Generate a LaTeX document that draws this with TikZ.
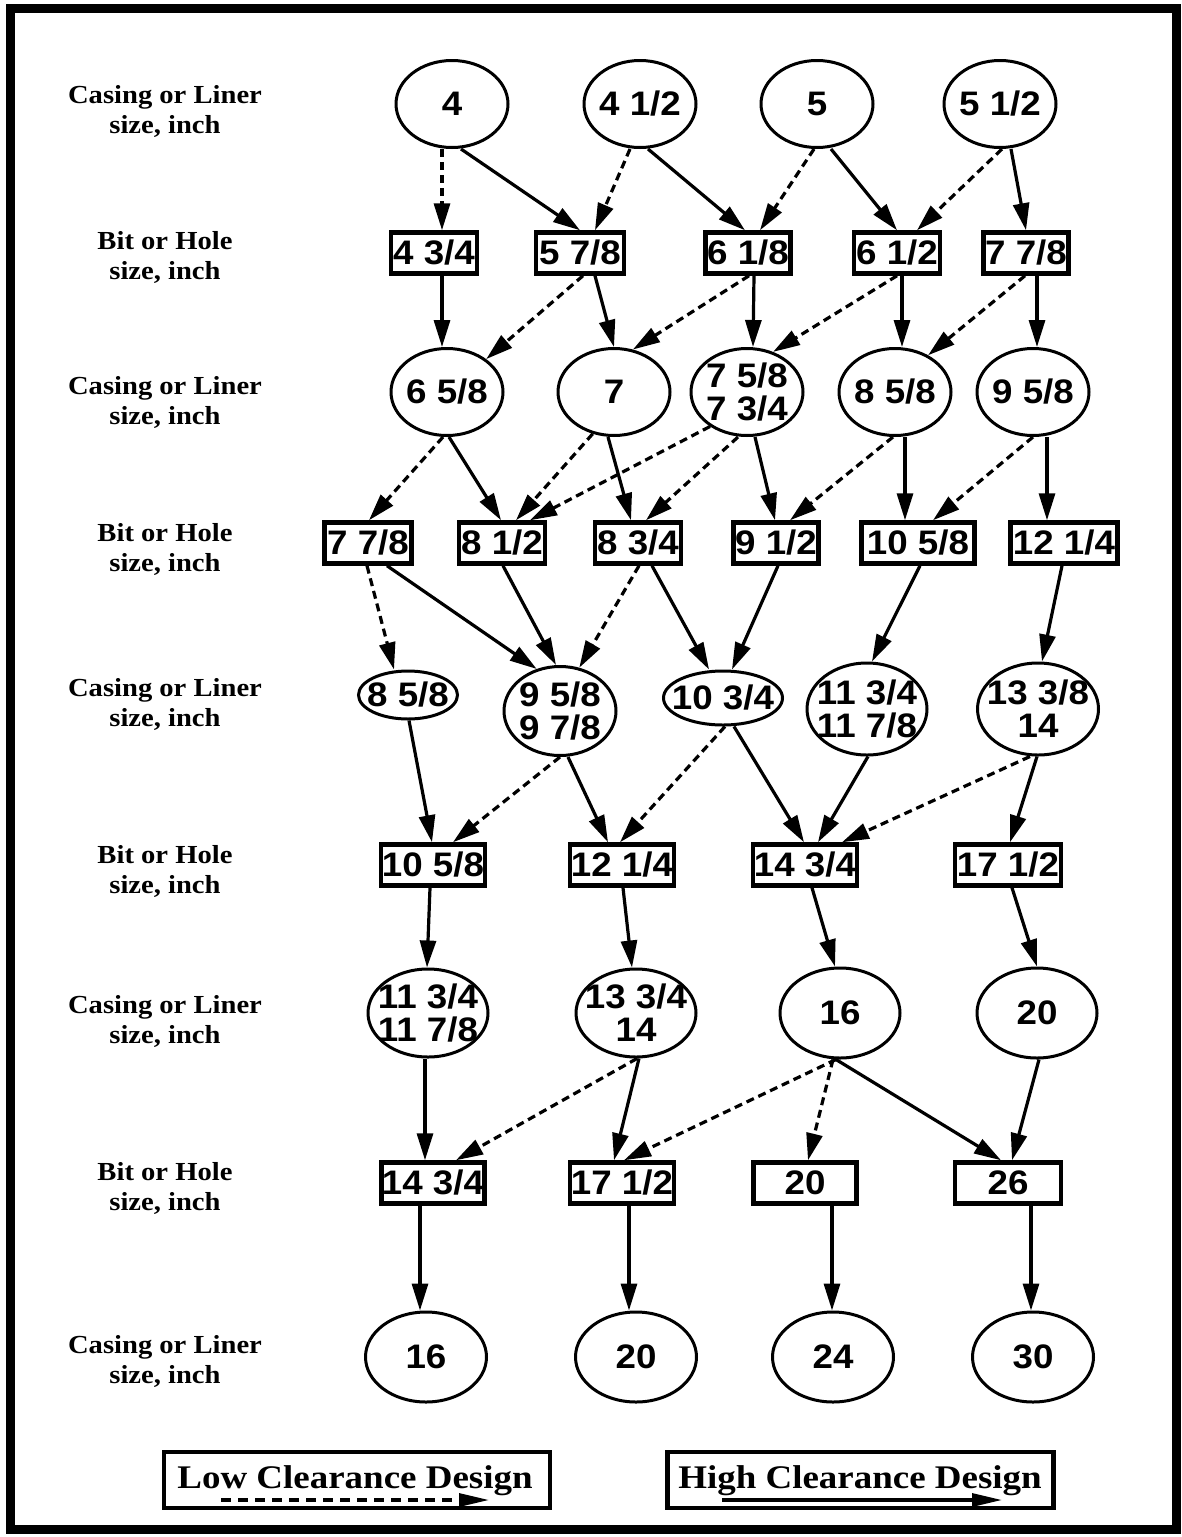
\documentclass[tikz,border=0pt]{standalone}
\usepackage{fontspec}
\usetikzlibrary{arrows.meta,shapes.geometric}
\newfontfamily\nodefont{Liberation Sans}[FakeStretch=1.08]
\newfontfamily\labfont{Liberation Serif}[FakeStretch=1.1]
\newfontfamily\legfont{Liberation Serif}[FakeStretch=1.12]
\begin{document}
\begin{tikzpicture}[x=1pt,y=-1pt,
  cas/.style={ellipse, draw, line width=3pt, inner xsep=-50pt, inner ysep=-45pt, align=center,
    font=\nodefont\fontsize{34pt}{33pt}\selectfont\bfseries},
  bit/.style={rectangle, draw, line width=4.5pt, inner xsep=-12pt, inner ysep=-8pt, minimum height=41pt,
    font=\nodefont\fontsize{34pt}{33pt}\selectfont\bfseries},
  lab/.style={align=center, font=\labfont\fontsize{26pt}{30pt}\selectfont\bfseries},
  legtext/.style={font=\legfont\fontsize{33pt}{33pt}\selectfont\bfseries, anchor=base},
  legbox/.style={rectangle, draw, line width=4.5pt, minimum width=386pt, minimum height=56pt, inner sep=0pt},
  hc/.style={line width=3.2pt, -{Triangle[length=27pt,width=16pt]}},
  lc/.style={hc, dash pattern=on 8pt off 5pt},
  leghc/.style={line width=3.2pt, -{Triangle[length=30pt,width=13pt]}},
  leglc/.style={leghc, dash pattern=on 10pt off 7pt}]
\useasboundingbox (0,0) rectangle (1182,1537);
\fill[white] (0,0) rectangle (1182,1537);
\draw[line width=9pt] (10.5,8.5) rectangle (1176.5,1529);

% row labels
\node[lab] (l1) at (165,111) {Casing or Liner\\size, inch};
\node[lab] (l2) at (165,257) {Bit or Hole\\size, inch};
\node[lab] (l3) at (165,402) {Casing or Liner\\size, inch};
\node[lab] (l4) at (165,549) {Bit or Hole\\size, inch};
\node[lab] (l5) at (165,704) {Casing or Liner\\size, inch};
\node[lab] (l6) at (165,871) {Bit or Hole\\size, inch};
\node[lab] (l7) at (165,1021) {Casing or Liner\\size, inch};
\node[lab] (l8) at (165,1188) {Bit or Hole\\size, inch};
\node[lab] (l9) at (165,1361) {Casing or Liner\\size, inch};

% row 1
\node[cas, minimum width=112pt, minimum height=87pt] (c4) at (452,104) {4};
\node[cas, minimum width=112pt, minimum height=87pt] (c412) at (640,104) {4 1/2};
\node[cas, minimum width=112pt, minimum height=87pt] (c5) at (817,104) {5};
\node[cas, minimum width=112pt, minimum height=87pt] (c512) at (1000,104) {5 1/2};
% row 2
\node[bit, minimum width=86pt] (b434) at (434,253) {4 3/4};
\node[bit, minimum width=88pt] (b578) at (580,253) {5 7/8};
\node[bit, minimum width=85pt] (b618) at (748,253) {6 1/8};
\node[bit, minimum width=86pt] (b612) at (897,253) {6 1/2};
\node[bit, minimum width=85pt] (b778a) at (1026,253) {7 7/8};
% row 3
\node[cas, minimum width=112pt, minimum height=87pt] (c658) at (447,392) {6 5/8};
\node[cas, minimum width=112pt, minimum height=87pt] (c7) at (614,392) {7};
\node[cas, minimum width=112pt, minimum height=87pt] (c758) at (747,392) {7 5/8\\7 3/4};
\node[cas, minimum width=112pt, minimum height=87pt] (c858a) at (895,392) {8 5/8};
\node[cas, minimum width=112pt, minimum height=87pt] (c958a) at (1033,392) {9 5/8};
% row 4
\node[bit, minimum width=87pt] (b778b) at (368,543) {7 7/8};
\node[bit, minimum width=86pt] (b812) at (502,543) {8 1/2};
\node[bit, minimum width=86pt] (b834) at (638,543) {8 3/4};
\node[bit, minimum width=85pt] (b912) at (776,543) {9 1/2};
\node[bit, minimum width=113pt] (b1058a) at (918,543) {10 5/8};
\node[bit, minimum width=107pt] (b1214a) at (1064,543) {12 1/4};
% row 5
\node[cas, minimum width=99pt, minimum height=48pt] (c858b) at (408,695) {8 5/8};
\node[cas, minimum width=112pt, minimum height=89pt] (c958b) at (560,711) {9 5/8\\9 7/8};
\node[cas, minimum width=119pt, minimum height=54pt] (c1034) at (723,698) {10 3/4};
\node[cas, minimum width=120pt, minimum height=92pt] (c1134a) at (867,709) {11 3/4\\11 7/8};
\node[cas, minimum width=121pt, minimum height=92pt] (c1338) at (1038,709) {13 3/8\\14};
% row 6
\node[bit, minimum width=104pt] (b1058b) at (433,865) {10 5/8};
\node[bit, minimum width=104pt] (b1214b) at (622,865) {12 1/4};
\node[bit, minimum width=104pt] (b1434a) at (805,865) {14 3/4};
\node[bit, minimum width=106pt] (b1712a) at (1008,865) {17 1/2};
% row 7
\node[cas, minimum width=120pt, minimum height=88pt] (c1134b) at (428,1013) {11 3/4\\11 7/8};
\node[cas, minimum width=120pt, minimum height=88pt] (c1334) at (636,1013) {13 3/4\\14};
\node[cas, minimum width=120pt, minimum height=90pt] (c16a) at (840,1013) {16};
\node[cas, minimum width=120pt, minimum height=90pt] (c20a) at (1037,1013) {20};
% row 8
\node[bit, minimum width=103pt] (b1434b) at (433,1183) {14 3/4};
\node[bit, minimum width=104pt] (b1712b) at (622,1183) {17 1/2};
\node[bit, minimum width=103pt] (b20) at (805,1183) {20};
\node[bit, minimum width=106pt] (b26) at (1008,1183) {26};
% row 9
\node[cas, minimum width=121pt, minimum height=90pt] (c16b) at (426,1357) {16};
\node[cas, minimum width=121pt, minimum height=90pt] (c20b) at (636,1357) {20};
\node[cas, minimum width=121pt, minimum height=90pt] (c24) at (833,1357) {24};
\node[cas, minimum width=121pt, minimum height=90pt] (c30) at (1033,1357) {30};

% row 1 -> row 2
\draw[lc] ([xshift=-10pt]c4.south) -- ([xshift=8pt]b434.north);
\draw[hc] ([xshift=9pt]c4.south) -- (b578.north);
\draw[lc] ([xshift=-10pt]c412.south) -- ([xshift=15pt]b578.north);
\draw[hc] ([xshift=8pt]c412.south) -- ([xshift=-3pt]b618.north);
\draw[lc] ([xshift=-3pt]c5.south) -- ([xshift=12pt]b618.north);
\draw[hc] ([xshift=14pt]c5.south) -- (b612.north);
\draw[lc] ([xshift=2pt]c512.south) -- ([xshift=20pt]b612.north);
\draw[hc] ([xshift=11pt]c512.south) -- (b778a.north);
% row 2 -> row 3
\draw[hc] ([xshift=8pt]b434.south) -- ([xshift=-5pt]c658.north);
\draw[lc] ([xshift=3pt]b578.south) -- (c658.40);
\draw[hc] ([xshift=15pt]b578.south) -- (c7.north);
\draw[lc] ([xshift=1pt]b618.south) -- (c7.66);
\draw[hc] ([xshift=6pt]b618.south) -- ([xshift=6pt]c758.north);
\draw[lc] (b612.south) -- (c758.57);
\draw[hc] ([xshift=5pt]b612.south) -- ([xshift=7pt]c858a.north);
\draw[lc] ([xshift=-1pt]b778a.south) -- (c858a.48);
\draw[hc] ([xshift=11pt]b778a.south) -- ([xshift=4pt]c958a.north);
% row 3 -> row 4
\draw[lc] ([xshift=-4pt]c658.south) -- ([xshift=1pt]b778b.north);
\draw[hc] ([xshift=2pt]c658.south) -- ([xshift=-1pt]b812.north);
\draw[lc] (c7.-117) -- ([xshift=14pt]b812.north);
\draw[hc] ([xshift=-6pt]c7.south) -- ([xshift=-7pt]b834.north);
\draw[lc] (c758.-137) -- ([xshift=28pt]b812.north);
\draw[lc] ([xshift=-9pt]c758.south) -- ([xshift=8pt]b834.north);
\draw[hc] ([xshift=8pt]c758.south) -- ([xshift=-1pt]b912.north);
\draw[lc] ([xshift=-2pt]c858a.south) -- ([xshift=14pt]b912.north);
\draw[hc] ([xshift=10pt]c858a.south) -- ([xshift=-13pt]b1058a.north);
\draw[lc] (c958a.south) -- ([xshift=15pt]b1058a.north);
\draw[hc] ([xshift=14pt]c958a.south) -- ([xshift=-17pt]b1214a.north);
% row 4 -> row 5
\draw[lc] ([xshift=-1pt]b778b.south) -- ([xshift=-14pt]c858b.north);
\draw[hc] ([xshift=19pt]b778b.south) -- (c958b.119);
\draw[hc] ([xshift=1pt]b812.south) -- ([xshift=-4pt]c958b.north);
\draw[lc] ([xshift=1pt]b834.south) -- (c958b.66);
\draw[hc] ([xshift=14pt]b834.south) -- ([xshift=-14pt]c1034.north);
\draw[hc] ([xshift=2pt]b912.south) -- ([xshift=9pt]c1034.north);
\draw[hc] ([xshift=2pt]b1058a.south) -- ([xshift=5pt]c1134a.north);
\draw[hc] ([xshift=-2pt]b1214a.south) -- ([xshift=4pt]c1338.north);
% row 5 -> row 6
\draw[hc] ([xshift=1pt]c858b.south) -- ([xshift=-1pt]b1058b.north);
\draw[lc] (c958b.south) -- ([xshift=20pt]b1058b.north);
\draw[hc] ([xshift=8pt]c958b.south) -- ([xshift=-14pt]b1214b.north);
\draw[lc] ([xshift=2pt]c1034.south) -- ([xshift=-2pt]b1214b.north);
\draw[hc] ([xshift=11pt]c1034.south) -- ([xshift=-1pt]b1434a.north);
\draw[hc] ([xshift=1pt]c1134a.south) -- ([xshift=13pt]b1434a.north);
\draw[lc] ([xshift=-8pt]c1338.south) -- ([xshift=37pt]b1434a.north);
\draw[hc] ([xshift=-1pt]c1338.south) -- ([xshift=2pt]b1712a.north);
% row 6 -> row 7
\draw[hc] ([xshift=-3pt]b1058b.south) -- ([xshift=-1pt]c1134b.north);
\draw[hc] ([xshift=1pt]b1214b.south) -- ([xshift=-4pt]c1334.north);
\draw[hc] ([xshift=7pt]b1434a.south) -- ([xshift=-5pt]c16a.north);
\draw[hc] ([xshift=4pt]b1712a.south) -- (c20a.north);
% row 7 -> row 8
\draw[hc] ([xshift=-3pt]c1134b.south) -- ([xshift=-8pt]b1434b.north);
\draw[lc] ([xshift=1pt]c1334.south) -- ([xshift=23pt]b1434b.north);
\draw[hc] ([xshift=3pt]c1334.south) -- ([xshift=-8pt]b1712b.north);
\draw[lc] ([xshift=-4pt]c16a.south) -- ([xshift=2pt]b1712b.north);
\draw[lc] ([xshift=-7pt]c16a.south) -- ([xshift=3pt]b20.north);
\draw[hc] ([xshift=-4pt]c16a.south) -- ([xshift=-7pt]b26.north);
\draw[hc] ([xshift=2pt]c20a.south) -- ([xshift=4pt]b26.north);
% row 8 -> row 9
\draw[hc] ([xshift=-13pt]b1434b.south) -- ([xshift=-6pt]c16b.north);
\draw[hc] ([xshift=7pt]b1712b.south) -- ([xshift=-7pt]c20b.north);
\draw[hc] ([xshift=27pt]b20.south) -- ([xshift=-1pt]c24.north);
\draw[hc] ([xshift=23pt]b26.south) -- ([xshift=-2pt]c30.north);

% legend
\node[legbox] (lowbox) at (357,1480) {};
\node[legtext] (lowtxt) at (355,1488) {Low Clearance Design};
\coordinate (lowa) at (221,1500);
\coordinate (lowb) at (489,1500);
\draw[leglc] (lowa) -- (lowb);
\node[legbox] (highbox) at (860.5,1480) {};
\node[legtext] (hightxt) at (860,1488) {High Clearance Design};
\coordinate (higha) at (722,1500);
\coordinate (highb) at (1002,1500);
\draw[leghc] (higha) -- (highb);
\end{tikzpicture}
\end{document}
